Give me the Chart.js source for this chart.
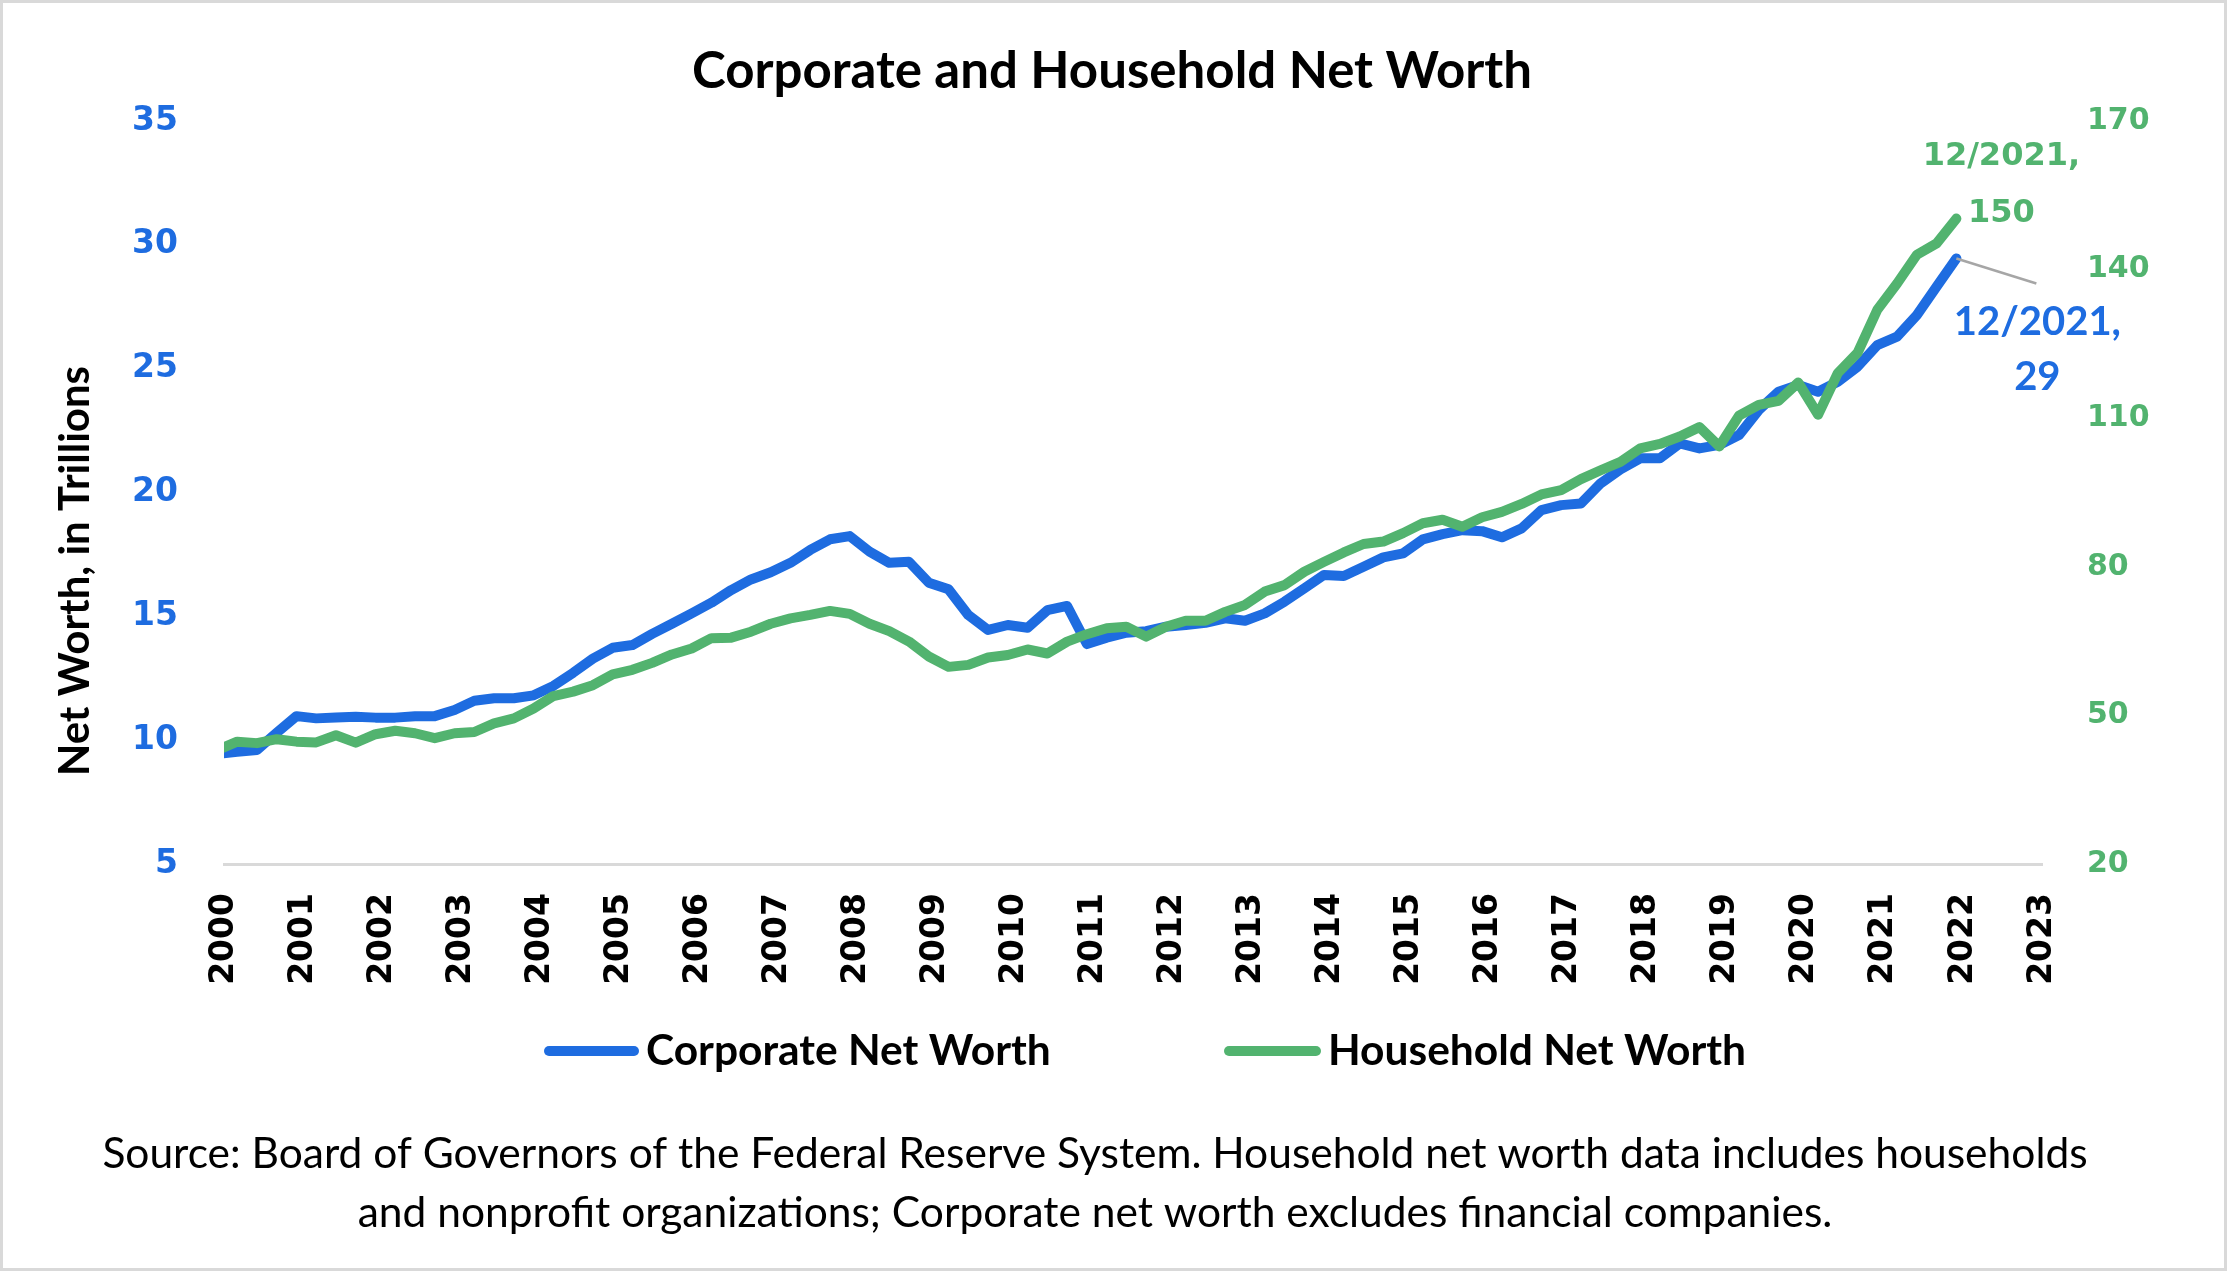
<!DOCTYPE html>
<html>
<head>
<meta charset="utf-8">
<title>Corporate and Household Net Worth</title>
<script src="https://cdn.jsdelivr.net/npm/chart.js@4.4.1/dist/chart.umd.min.js"></script>
<style>
  html, body { margin: 0; padding: 0; background: #fff; }
  canvas { display: block; }
</style>
</head>
<body>
<canvas id="netWorthChart" width="2227" height="1271"></canvas>
<script>
// quarterly observations, 12/1999 through 12/2021 (trillions of dollars)
const firstQuarter = { year: 1999, month: 12 };

const corporateNetWorth = [
  9.45, 9.53, 9.60, 10.30, 10.97, 10.88, 10.92, 10.95, 10.91, 10.91,
  10.97, 10.97, 11.22, 11.59, 11.69, 11.69, 11.81, 12.19, 12.72, 13.29,
  13.73, 13.84, 14.29, 14.70, 15.12, 15.55, 16.06, 16.49, 16.78, 17.16,
  17.68, 18.11, 18.24, 17.61, 17.16, 17.20, 16.36, 16.09, 15.05, 14.45,
  14.65, 14.54, 15.25, 15.42, 13.88, 14.14, 14.34, 14.40, 14.58, 14.65,
  14.74, 14.92, 14.82, 15.12, 15.59, 16.13, 16.67, 16.63, 17.00, 17.38,
  17.54, 18.11, 18.32, 18.48, 18.44, 18.19, 18.55, 19.29, 19.49, 19.56,
  20.37, 20.93, 21.38, 21.38, 21.98, 21.78, 21.92, 22.32, 23.33, 24.07,
  24.34, 24.07, 24.47, 25.08, 25.95, 26.29, 27.16, 28.31, 29.45
];

const householdNetWorth = [
  43.0, 44.7, 44.4, 45.2, 44.7, 44.55, 46.0, 44.5, 46.2, 46.9,
  46.4, 45.4, 46.4, 46.65, 48.4, 49.4, 51.4, 53.9, 54.8, 56.1,
  58.3, 59.2, 60.6, 62.3, 63.5, 65.6, 65.7, 66.9, 68.5, 69.6,
  70.3, 71.1, 70.5, 68.5, 67.0, 64.9, 61.9, 59.8, 60.2, 61.7,
  62.2, 63.3, 62.5, 64.9, 66.4, 67.6, 67.9, 65.9, 67.9, 69.1,
  69.1, 70.9, 72.3, 75.0, 76.3, 79.0, 81.0, 82.9, 84.6, 85.1,
  86.8, 88.8, 89.5, 88.1, 90.0, 91.1, 92.7, 94.6, 95.5, 97.7,
  99.5, 101.2, 103.9, 104.8, 106.3, 108.2, 104.3, 110.5, 112.7, 113.5,
  117.2, 110.7, 119.1, 123.2, 131.9, 137.2, 143.0, 145.3, 150.3
];

const yearTicks = [2000, 2001, 2002, 2003, 2004, 2005, 2006, 2007, 2008, 2009, 2010, 2011,
  2012, 2013, 2014, 2015, 2016, 2017, 2018, 2019, 2020, 2021, 2022, 2023];
const corporateTicks = [5, 10, 15, 20, 25, 30, 35];
const householdTicks = [20, 50, 80, 110, 140, 170];

const BLUE = '#1E6CE0';
const GREEN = '#52B36F';

// month of each quarter as a fractional year on the x axis
function quarterX(i) {
  return firstQuarter.year + (firstQuarter.month - 1 + i * 3) / 12;
}
function quarterLabel(i) {
  const m = firstQuarter.month - 1 + i * 3;
  return (m % 12 + 1) + '/' + (firstQuarter.year + Math.floor(m / 12));
}

const toPoints = (values) => values.map((v, i) => ({ x: quarterX(i), y: v }));

const decorations = {
  id: 'decorations',
  beforeDraw(chart) {
    const c = chart.ctx;
    c.save();
    c.fillStyle = '#fff';
    c.fillRect(0, 0, chart.width, chart.height);
    c.strokeStyle = '#D9D9D9';
    c.lineWidth = 3;
    c.strokeRect(1.5, 1.5, chart.width - 3, chart.height - 3);
    c.restore();
  },
  afterDraw(chart) {
    const c = chart.ctx;
    c.save();

    // title
    c.fillStyle = '#000';
    c.textAlign = 'center';
    c.textBaseline = 'alphabetic';
    c.font = 'bold 51px Lato';
    c.fillText('Corporate and Household Net Worth', 1112, 88);

    // y axis title
    c.save();
    c.translate(89, 571);
    c.rotate(-Math.PI / 2);
    c.font = 'bold 42px Lato';
    c.fillText('Net Worth, in Trillions', 0, 0);
    c.restore();

    // end-of-series labels
    const corpPts = chart.getDatasetMeta(0).data;
    const housePts = chart.getDatasetMeta(1).data;
    const cp = corpPts[corpPts.length - 1];
    const hp = housePts[housePts.length - 1];
    const lastIdx = corporateNetWorth.length - 1;

    c.strokeStyle = '#A6A6A6';
    c.lineWidth = 2.5;
    c.beginPath();
    c.moveTo(cp.x, cp.y);
    c.lineTo(cp.x + 80, cp.y + 25);
    c.stroke();

    c.fillStyle = BLUE;
    c.font = 'bold 40px Lato';
    c.fillText(quarterLabel(lastIdx) + ',', cp.x + 81, cp.y + 77);
    c.fillText(String(Math.floor(corporateNetWorth[lastIdx])), cp.x + 81, cp.y + 132);

    c.fillStyle = GREEN;
    c.font = 'bold 32px "DejaVu Sans"';
    c.fillText(quarterLabel(lastIdx) + ',', hp.x + 45, hp.y - 54);
    c.fillText(String(Math.floor(householdNetWorth[lastIdx])), hp.x + 45, hp.y + 3);

    // legend
    const items = [
      { label: chart.data.datasets[0].label, color: BLUE, x0: 549, x1: 634, tx: 646 },
      { label: chart.data.datasets[1].label, color: GREEN, x0: 1229, x1: 1316, tx: 1328 }
    ];
    c.lineCap = 'round';
    c.lineWidth = 10;
    c.font = 'bold 42.5px Lato';
    c.textAlign = 'left';
    items.forEach(it => {
      c.strokeStyle = it.color;
      c.beginPath();
      c.moveTo(it.x0, 1051);
      c.lineTo(it.x1, 1051);
      c.stroke();
      c.fillStyle = '#000';
      c.fillText(it.label, it.tx, 1065);
    });

    // source note
    c.textAlign = 'center';
    c.font = '42.5px Lato';
    c.fillStyle = '#000';
    c.fillText('Source: Board of Governors of the Federal Reserve System. Household net worth data includes households', 1095, 1168);
    c.fillText('and nonprofit organizations; Corporate net worth excludes financial companies.', 1095, 1227);

    c.restore();
  }
};

const tickFont = { family: 'DejaVu Sans', weight: 'bold', size: 33 };

new Chart(document.getElementById('netWorthChart'), {
  type: 'line',
  data: {
    datasets: [
      {
        label: 'Corporate Net Worth',
        data: toPoints(corporateNetWorth),
        yAxisID: 'y',
        borderColor: BLUE,
        backgroundColor: BLUE,
        borderWidth: 10,
        order: 1
      },
      {
        label: 'Household Net Worth',
        data: toPoints(householdNetWorth),
        yAxisID: 'y1',
        borderColor: GREEN,
        backgroundColor: GREEN,
        borderWidth: 10,
        order: 0
      }
    ]
  },
  options: {
    responsive: false,
    animation: false,
    devicePixelRatio: 1,
    layout: { padding: { top: 121, left: 0, right: 0, bottom: 257 } },
    elements: {
      point: { radius: 0 },
      line: { tension: 0, borderCapStyle: 'round', borderJoinStyle: 'round' }
    },
    datasets: {
      line: { clip: { left: 0, top: false, right: false, bottom: false } }
    },
    plugins: {
      legend: { display: false },
      title: { display: false },
      tooltip: { enabled: false }
    },
    scales: {
      x: {
        type: 'linear',
        min: yearTicks[0],
        max: yearTicks[yearTicks.length - 1],
        afterBuildTicks: s => { s.ticks = yearTicks.map(v => ({ value: v })); },
        afterFit: s => { s.height = 150; },
        ticks: {
          autoSkip: false,
          minRotation: 90,
          maxRotation: 90,
          padding: 29,
          color: '#000',
          font: tickFont,
          callback: v => String(v)
        },
        grid: { display: false, drawTicks: false },
        border: { display: true, color: '#D9D9D9', width: 3 }
      },
      y: {
        position: 'left',
        min: corporateTicks[0],
        max: corporateTicks[corporateTicks.length - 1],
        afterBuildTicks: s => { s.ticks = corporateTicks.map(v => ({ value: v })); },
        afterFit: s => { s.width = 224; },
        ticks: { padding: 46, color: BLUE, font: tickFont, callback: v => String(v) },
        grid: { display: false, drawTicks: false },
        border: { display: false }
      },
      y1: {
        position: 'right',
        min: householdTicks[0],
        max: householdTicks[householdTicks.length - 1],
        afterBuildTicks: s => { s.ticks = householdTicks.map(v => ({ value: v })); },
        afterFit: s => { s.width = 185; },
        ticks: {
          padding: 45,
          color: GREEN,
          font: { family: 'DejaVu Sans', weight: 'bold', size: 30 },
          callback: v => String(v)
        },
        grid: { display: false, drawTicks: false },
        border: { display: false }
      }
    }
  },
  plugins: [decorations]
});
</script>
</body>
</html>
